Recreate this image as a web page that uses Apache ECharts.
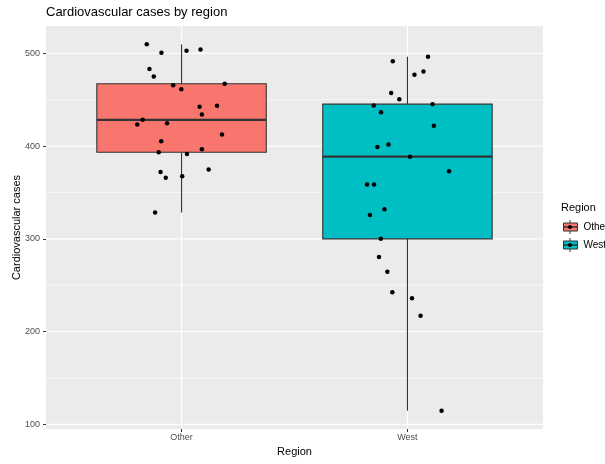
<!DOCTYPE html>
<html>
<head>
<meta charset="utf-8">
<script src="https://cdn.jsdelivr.net/npm/echarts@6/dist/echarts.min.js"></script>
<style>
  html, body { margin: 0; padding: 0; background: #fff; }
  #chart { width: 605px; height: 464px; }
</style>
</head>
<body>
<div id="chart"></div>
<script>
const regions = ['Other', 'West'];
const regionColors = ['#F8766D', '#00BFC4'];

// cases per county
const otherCases = [509.7, 500.7, 502.9, 504, 483, 475.1, 465.7, 461.4, 467.2, 442.4, 443.5, 434.1, 428.3,
  423.2, 424.7, 412.4, 405.2, 393.3, 396.5, 391.5, 374.9, 372.1, 366, 367.4, 328.4];
const otherJitter = [-0.154, -0.089, 0.022, 0.084, -0.142, -0.123, -0.037, -0.001, 0.191, 0.080, 0.157, 0.090, -0.172,
  -0.196, -0.064, 0.179, -0.090, -0.101, 0.090, 0.024, 0.120, -0.093, -0.070, 0.003, -0.117];
const westCases = [496.4, 491.4, 480.5, 477, 457.1, 450.6, 443.8, 445.2, 436.6, 421.8, 399.1, 401.6, 388.6,
  372.8, 358.7, 358.7, 332, 325.6, 300, 280.5, 264.6, 242.4, 235.9, 217.1, 114.8];
const westJitter = [0.091, -0.065, 0.071, 0.031, -0.072, -0.036, -0.149, 0.111, -0.117, 0.117, -0.133, -0.084, 0.011,
  0.184, -0.179, -0.148, -0.102, -0.166, -0.118, -0.126, -0.089, -0.067, 0.020, 0.058, 0.151];

const yTicks = [100, 200, 300, 400, 500];
const yMinor = [150, 250, 350, 450];
const xTicks = [1, 2];

const casesByRegion = [otherCases, westCases];
const jitterByRegion = [otherJitter, westJitter];

// quantile, type 7 like R
function quantile(sorted, p) {
  const h = (sorted.length - 1) * p;
  const lo = Math.floor(h);
  const hi = Math.ceil(h);
  return sorted[lo] + (h - lo) * (sorted[hi] - sorted[lo]);
}
function boxStats(values) {
  const s = values.slice().sort((a, b) => a - b);
  const q1 = quantile(s, 0.25), med = quantile(s, 0.5), q3 = quantile(s, 0.75);
  const iqr = q3 - q1;
  const lo = Math.min(...s.filter(v => v >= q1 - 1.5 * iqr));
  const hi = Math.max(...s.filter(v => v <= q3 + 1.5 * iqr));
  return [lo, q1, med, q3, hi];
}

const allValues = otherCases.concat(westCases);
const dMin = Math.min(...allValues), dMax = Math.max(...allValues);
const pad = (dMax - dMin) * 0.05;

const font = "'Liberation Sans', Arial, sans-serif";

function renderBox(params, api) {
  const x = api.value(0);
  const half = 0.375;
  const color = api.visual('color');
  const tl = api.coord([x - half, api.value(4)]);
  const br = api.coord([x + half, api.value(2)]);
  const lo = api.coord([x, api.value(1)]);
  const q1 = api.coord([x, api.value(2)]);
  const q3 = api.coord([x, api.value(4)]);
  const hi = api.coord([x, api.value(5)]);
  const med = api.coord([x, api.value(3)]);
  const line = { stroke: '#333333', lineWidth: 1.1 };
  return {
    type: 'group',
    children: [
      { type: 'line', shape: { x1: lo[0], y1: lo[1], x2: q1[0], y2: q1[1] }, style: line },
      { type: 'line', shape: { x1: q3[0], y1: q3[1], x2: hi[0], y2: hi[1] }, style: line },
      { type: 'rect', shape: { x: tl[0], y: tl[1], width: br[0] - tl[0], height: br[1] - tl[1] },
        style: { fill: color, stroke: '#333333', lineWidth: 1.1 } },
      { type: 'line', shape: { x1: tl[0], y1: med[1], x2: br[0], y2: med[1] },
        style: { stroke: '#333333', lineWidth: 2.2 } }
    ]
  };
}

function gridLines(dir, width) {
  return function (params, api) {
    const cs = params.coordSys;
    const p = api.coord([api.value(0), api.value(1)]);
    const shape = dir === 'h'
      ? { x1: cs.x, y1: p[1], x2: cs.x + cs.width, y2: p[1] }
      : { x1: p[0], y1: cs.y, x2: p[0], y2: cs.y + cs.height };
    return { type: 'line', shape: shape, style: { stroke: '#ffffff', lineWidth: width } };
  };
}

const chart = echarts.init(document.getElementById('chart'));

const series = [
  { type: 'custom', name: 'yMinor', z: 1, silent: true, renderItem: gridLines('h', 0.6),
    data: yMinor.map(v => [1, v]) },
  { type: 'custom', name: 'yMajor', z: 1, silent: true, renderItem: gridLines('h', 1.2),
    data: yTicks.map(v => [1, v]) },
  { type: 'custom', name: 'xMajor', z: 1, silent: true, renderItem: gridLines('v', 1.2),
    data: xTicks.map(v => [v, 300]) }
];
regions.forEach((r, i) => {
  series.push({
    type: 'custom', name: r, z: 2, renderItem: renderBox,
    itemStyle: { color: regionColors[i] },
    encode: { x: 0, y: [1, 2, 3, 4, 5] },
    data: [[i + 1].concat(boxStats(casesByRegion[i]))]
  });
});
regions.forEach((r, i) => {
  series.push({
    type: 'scatter', name: r + ' points', z: 3, symbolSize: 4.5,
    itemStyle: { color: '#000000', opacity: 1 },
    data: casesByRegion[i].map((v, k) => [i + 1 + jitterByRegion[i][k], v])
  });
});

const legendLeft = 563, legendTop = 218, legendRow = 18;

const option = {
  animation: false,
  backgroundColor: '#ffffff',
  textStyle: { fontFamily: font },
  title: [
    { text: 'Cardiovascular cases by region', left: 46, top: 6, padding: 0,
      textStyle: { fontSize: 13, fontWeight: 'normal', color: '#000000', fontFamily: font } },
    { text: 'Region', left: 561, top: 202, padding: 0,
      textStyle: { fontSize: 11, fontWeight: 'normal', color: '#000000', fontFamily: font } }
  ],
  legend: {
    data: regions,
    orient: 'vertical',
    left: legendLeft, top: legendTop, padding: 0,
    icon: 'rect',
    itemWidth: 14, itemHeight: 8, itemGap: 0,
    selectedMode: false,
    itemStyle: { borderColor: '#333333', borderWidth: 1 },
    textStyle: { fontSize: 10, color: '#000000', lineHeight: legendRow, fontFamily: font, padding: [0, 0, 0, 1] }
  },
  grid: {
    left: 46, top: 26, width: 497, height: 403,
    show: true, backgroundColor: '#EBEBEB', borderWidth: 0
  },
  xAxis: {
    type: 'value', min: 0.4, max: 2.6,
    name: 'Region', nameLocation: 'middle', nameGap: 17, nameMoveOverlap: false,
    nameTextStyle: { fontSize: 11, color: '#000000', fontFamily: font },
    axisLine: { show: false },
    axisTick: { show: true, length: 3, customValues: xTicks, lineStyle: { color: '#333333' } },
    axisLabel: { customValues: xTicks, fontSize: 9, color: '#4D4D4D', margin: 4,
      formatter: v => regions[Math.round(v) - 1] || '' },
    splitLine: { show: false }
  },
  yAxis: {
    type: 'value', min: dMin - pad, max: dMax + pad,
    name: 'Cardiovascular cases', nameLocation: 'middle', nameGap: 24, nameMoveOverlap: false,
    nameTextStyle: { fontSize: 11, color: '#000000', fontFamily: font },
    axisLine: { show: false },
    axisTick: { show: true, length: 3, customValues: yTicks, lineStyle: { color: '#333333' } },
    axisLabel: { customValues: yTicks, fontSize: 9, color: '#4D4D4D', margin: 6 },
    splitLine: { show: false }
  },
  series: series
};
chart.setOption(option);

// whisker ends and median point inside each legend key
const keyX = legendLeft + 7;
const graphics = [];
regions.forEach((r, i) => {
  const cy = legendTop + legendRow / 2 + i * legendRow;
  graphics.push(
    { type: 'line', z: 100, shape: { x1: keyX, y1: cy - 7, x2: keyX, y2: cy - 4 }, style: { stroke: '#333333', lineWidth: 1 } },
    { type: 'line', z: 100, shape: { x1: keyX, y1: cy + 4, x2: keyX, y2: cy + 7 }, style: { stroke: '#333333', lineWidth: 1 } },
    { type: 'line', z: 100, shape: { x1: keyX - 7, y1: cy, x2: keyX + 7, y2: cy }, style: { stroke: '#333333', lineWidth: 1.5 } },
    { type: 'circle', z: 101, shape: { cx: keyX, cy: cy, r: 2 }, style: { fill: '#000000' } }
  );
});
chart.setOption({ graphic: graphics });
</script>
</body>
</html>
